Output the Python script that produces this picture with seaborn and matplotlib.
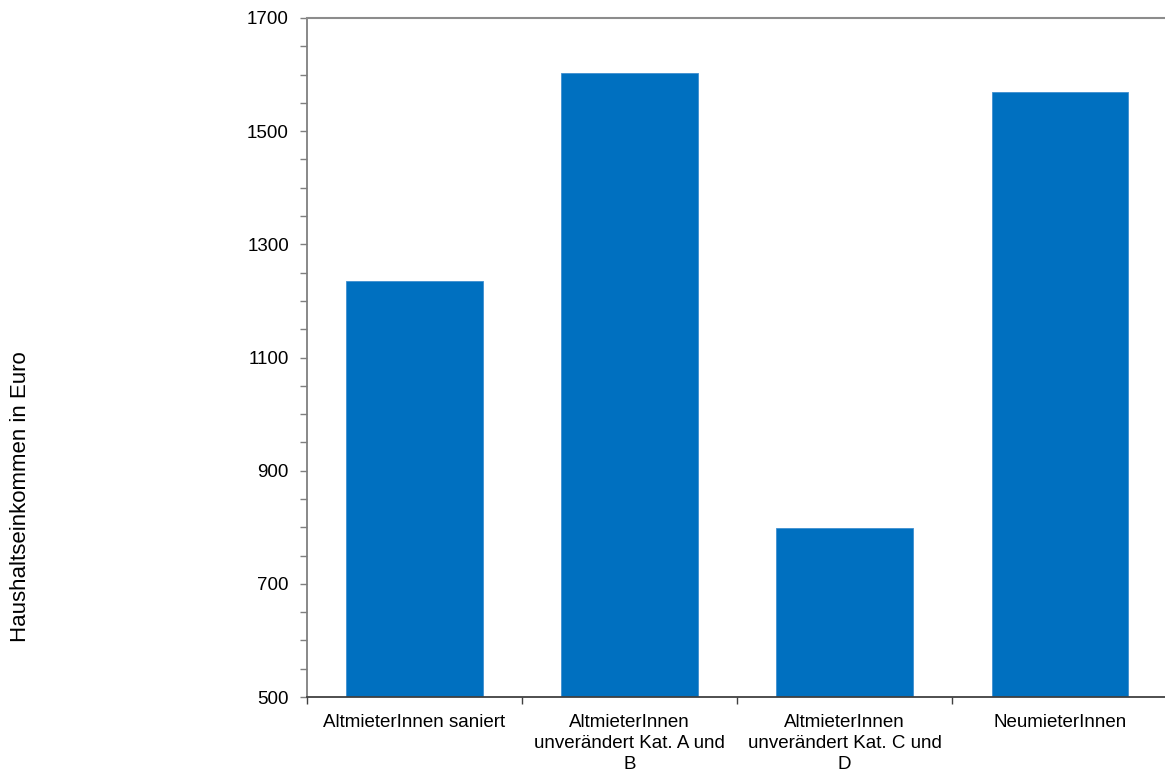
import matplotlib
matplotlib.use("Agg")
import matplotlib.pyplot as plt
import seaborn as sns
import pandas as pd
import numpy as np
from matplotlib.ticker import FixedLocator

categories = [
    "AltmieterInnen saniert",
    "AltmieterInnen\nunverändert Kat. A und\nB",
    "AltmieterInnen\nunverändert Kat. C und\nD",
    "NeumieterInnen",
]
values = [1235, 1603, 798, 1570]
y_ticks = [500, 700, 900, 1100, 1300, 1500, 1700]
y_label = "Haushaltseinkommen in Euro"

sns.set_theme(style="white")
plt.rcParams["font.family"] = ["Liberation Sans", "DejaVu Sans"]

df = pd.DataFrame({"cat": categories, "val": values})

fig = plt.figure(figsize=(11.65, 7.72), dpi=100)
ax = fig.add_axes([307 / 1165, 1 - 697 / 772, 1 - 307 / 1165 + 0.002, (697 - 18) / 772])

sns.barplot(data=df, x="cat", y="val", color="#0070C0", saturation=1,
            width=0.635, ax=ax, edgecolor="#3f8fd0", linewidth=0.6)

ax.set_ylim(500, 1700)
ax.set_xlim(-0.5, 3.5)
ax.yaxis.set_major_locator(FixedLocator(y_ticks))
ax.yaxis.set_minor_locator(FixedLocator(np.arange(500, 1701, 50)))
ax.xaxis.set_major_locator(FixedLocator([0, 1, 2, 3]))
ax.set_xticklabels(categories, linespacing=1.33)
ax.xaxis.set_minor_locator(FixedLocator([-0.5, 0.5, 1.5, 2.5, 3.5]))

ax.tick_params(axis="y", which="both", direction="out", length=5, width=1,
               color="#7f7f7f", left=True, labelsize=13.5, pad=8, labelcolor="black")
ax.tick_params(axis="x", which="major", length=0, pad=12, labelsize=13.5, labelcolor="black")
ax.tick_params(axis="x", which="minor", direction="out", length=5, width=1,
               color="#404040", bottom=True)

ax.set_xlabel("")
ax.set_ylabel("")

ax.spines["right"].set_visible(False)
ax.spines["top"].set_color("#8c8c8c")
ax.spines["top"].set_linewidth(1.5)
ax.spines["left"].set_color("#7f7f7f")
ax.spines["left"].set_linewidth(1.3)
ax.spines["bottom"].set_color("#404040")
ax.spines["bottom"].set_linewidth(1.3)

fig.text(21 / 1165, 1 - 497 / 772, y_label, rotation=90, ha="center", va="center",
         fontsize=16, color="black")

fig.savefig("out.png", dpi=100)
